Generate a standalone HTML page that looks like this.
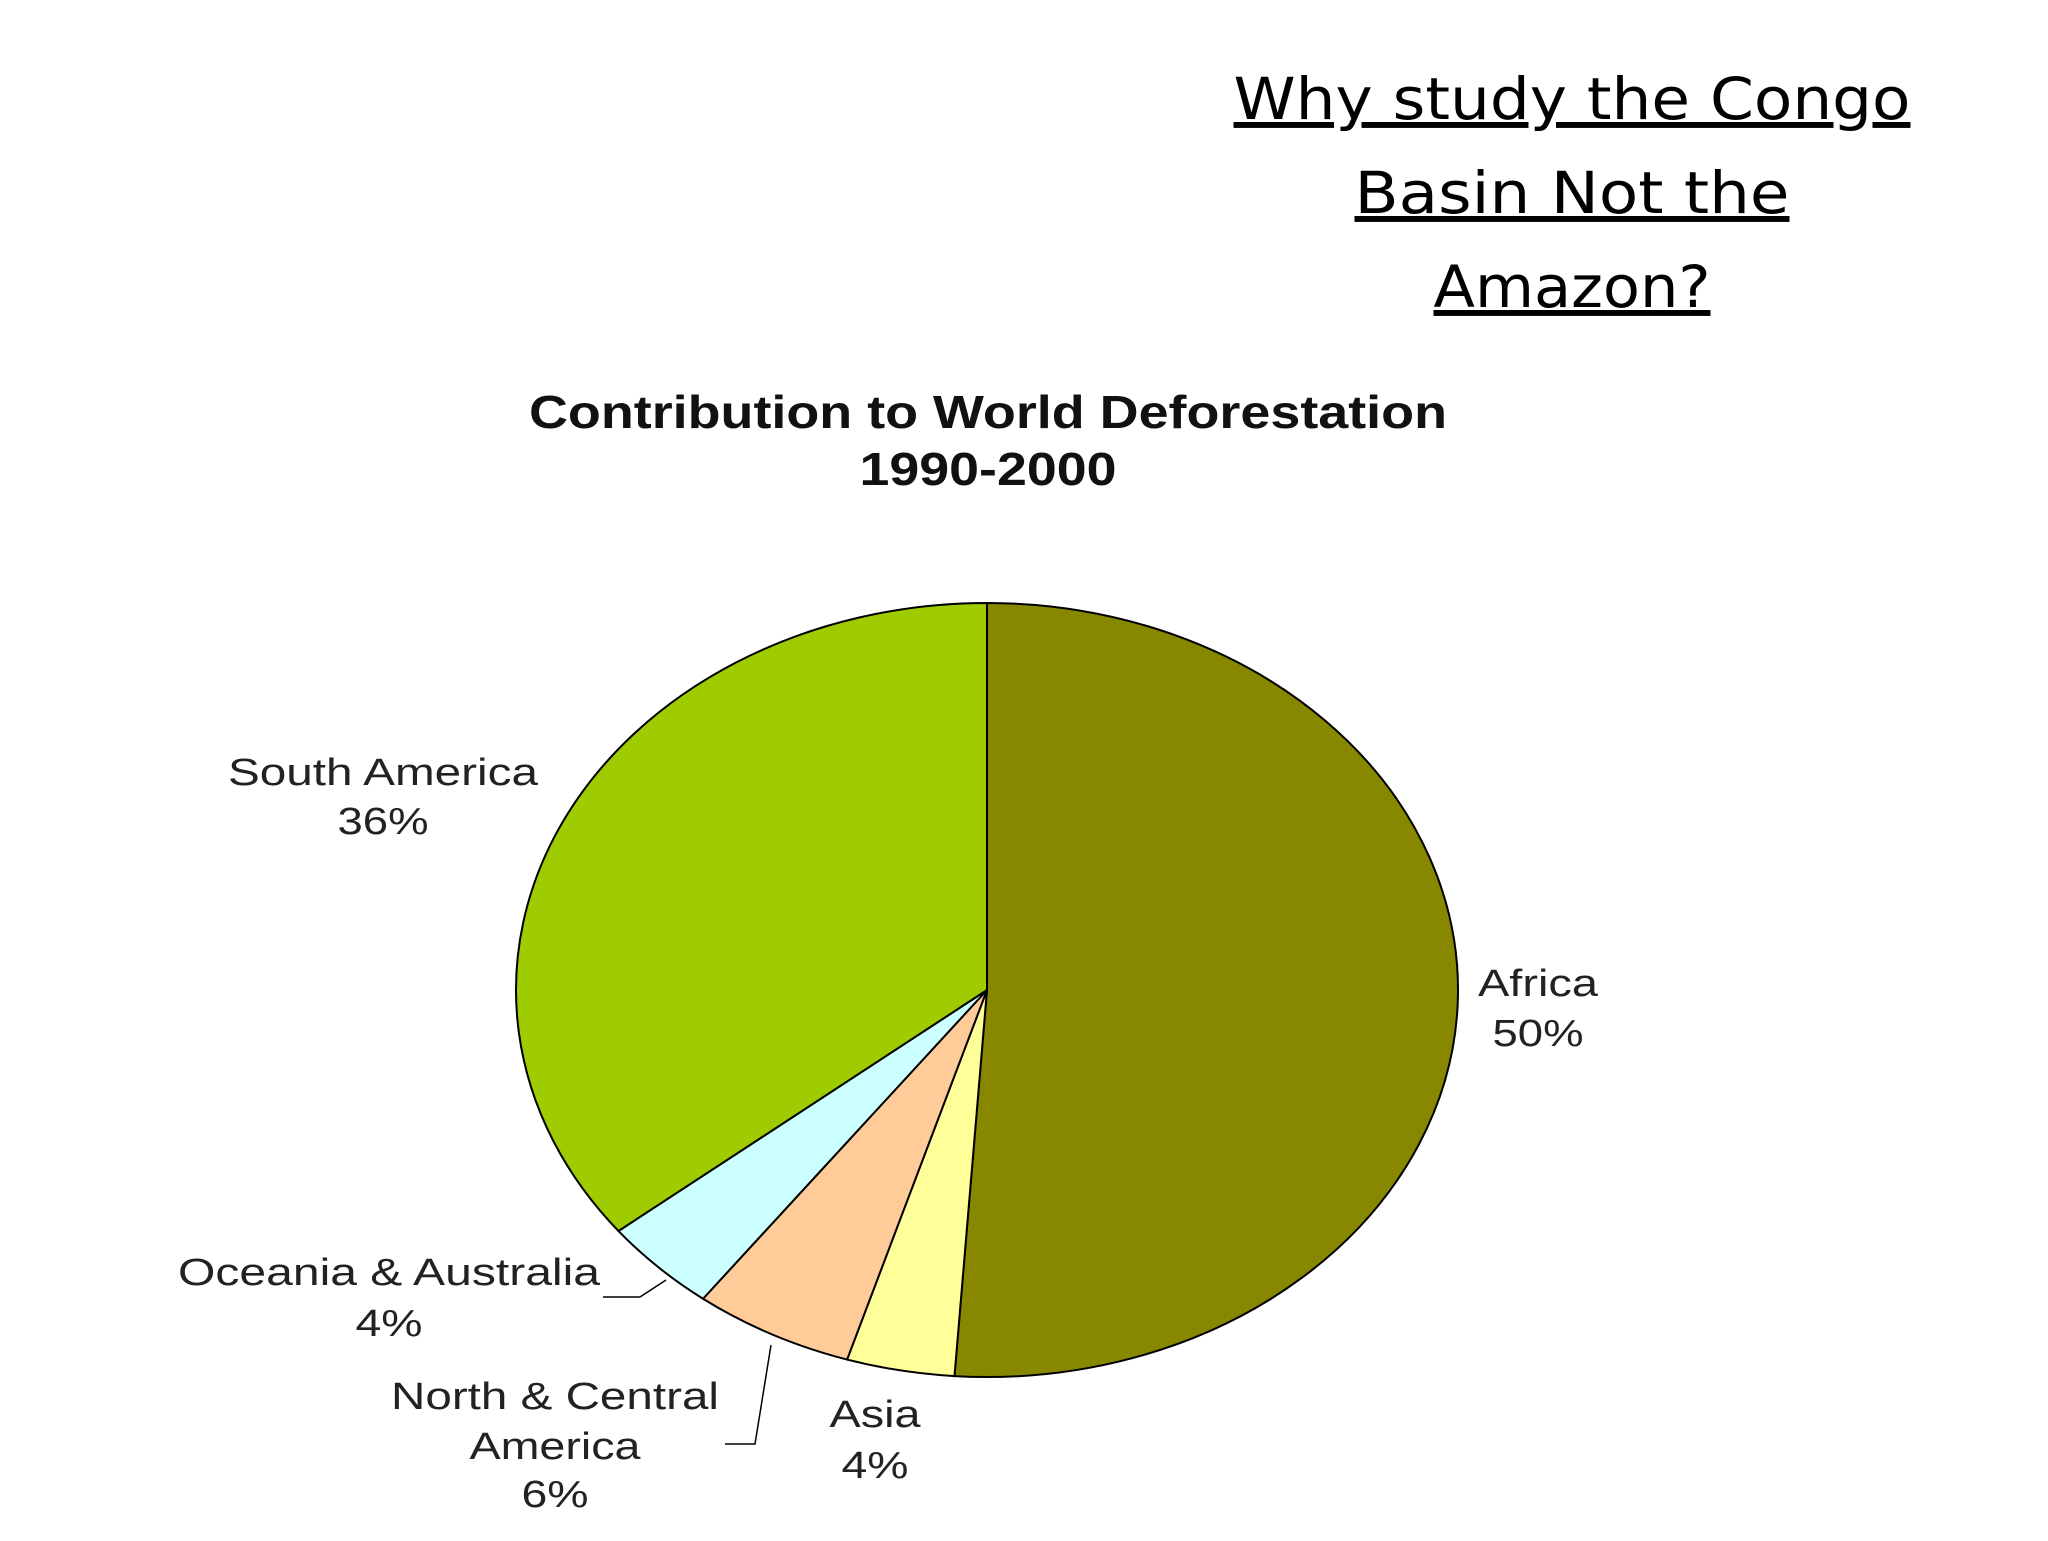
<!DOCTYPE html>
<html><head><meta charset="utf-8"><style>
html,body{margin:0;padding:0;background:#fff;}
body{width:2048px;height:1536px;overflow:hidden;position:relative;}
</style></head><body>
<svg width="2048" height="1536" viewBox="0 0 2048 1536">
<g font-family="'DejaVu Sans', sans-serif" font-size="58" text-anchor="middle" fill="#000" text-decoration="underline">
<text x="1572" y="119" textLength="677" lengthAdjust="spacingAndGlyphs" text-decoration="underline">Why study the Congo</text>
<text x="1572" y="213" textLength="435" lengthAdjust="spacingAndGlyphs" text-decoration="underline">Basin Not the</text>
<text x="1572" y="307" textLength="277" lengthAdjust="spacingAndGlyphs" text-decoration="underline">Amazon?</text>
</g>
<g font-family="'Liberation Sans', Arial, sans-serif" font-size="46" font-weight="bold" text-anchor="middle" fill="#111">
<text x="988" y="428" textLength="918" lengthAdjust="spacingAndGlyphs">Contribution to World Deforestation</text>
<text x="988" y="485" textLength="257" lengthAdjust="spacingAndGlyphs">1990-2000</text>
</g>
<g id="pie"></g>
<g stroke="#000" stroke-width="1.5" fill="none">
<polyline points="603,1297 640,1297 666,1280"/>
<polyline points="725,1444 755,1444 771,1345"/>
</g>
<g font-family="'Liberation Sans', Arial, sans-serif" font-size="38" text-anchor="middle" fill="#222" lengthAdjust="spacingAndGlyphs">
<text x="383" y="785" textLength="310" lengthAdjust="spacingAndGlyphs">South America</text>
<text x="383" y="834" textLength="91" lengthAdjust="spacingAndGlyphs">36%</text>
<text x="1538" y="996" textLength="120" lengthAdjust="spacingAndGlyphs">Africa</text>
<text x="1538" y="1046" textLength="91" lengthAdjust="spacingAndGlyphs">50%</text>
<text x="389" y="1285" textLength="422" lengthAdjust="spacingAndGlyphs">Oceania &amp; Australia</text>
<text x="389" y="1336" textLength="67" lengthAdjust="spacingAndGlyphs">4%</text>
<text x="555" y="1409" textLength="328" lengthAdjust="spacingAndGlyphs">North &amp; Central</text>
<text x="555" y="1459" textLength="171" lengthAdjust="spacingAndGlyphs">America</text>
<text x="555" y="1507" textLength="67" lengthAdjust="spacingAndGlyphs">6%</text>
<text x="875" y="1427" textLength="91" lengthAdjust="spacingAndGlyphs">Asia</text>
<text x="875" y="1478" textLength="67" lengthAdjust="spacingAndGlyphs">4%</text>
</g>
</svg>
<script>
const categories = ["Africa", "Asia", "North & Central America", "Oceania & Australia", "South America"];
const shares = [51.1, 3.7, 5.5, 4.0, 35.7];
const printedLabels = ["50%", "4%", "6%", "4%", "36%"];
const colors = ["#878700", "#FFFF99", "#FFCC99", "#CCFFFF", "#9ECC00"];
const cx = 987, cy = 990, rx = 471, ry = 387;
const g = document.getElementById('pie');
const total = shares.reduce((a,b)=>a+b,0);
function pt(frac){ const t = frac*2*Math.PI; return [cx + rx*Math.sin(t), cy - ry*Math.cos(t)]; }
let acc = 0;
shares.forEach((v,i)=>{
  const a0 = acc/total, a1 = (acc+v)/total; acc += v;
  const p0 = pt(a0), p1 = pt(a1);
  const large = (a1-a0) > 0.5 ? 1 : 0;
  const path = document.createElementNS('http://www.w3.org/2000/svg','path');
  path.setAttribute('d', `M${cx},${cy} L${p0[0]},${p0[1]} A${rx},${ry} 0 ${large} 1 ${p1[0]},${p1[1]} Z`);
  path.setAttribute('fill', colors[i]);
  path.setAttribute('stroke', '#000');
  path.setAttribute('stroke-width', '2');
  
  
  g.appendChild(path);
});
</script>
</body></html>
